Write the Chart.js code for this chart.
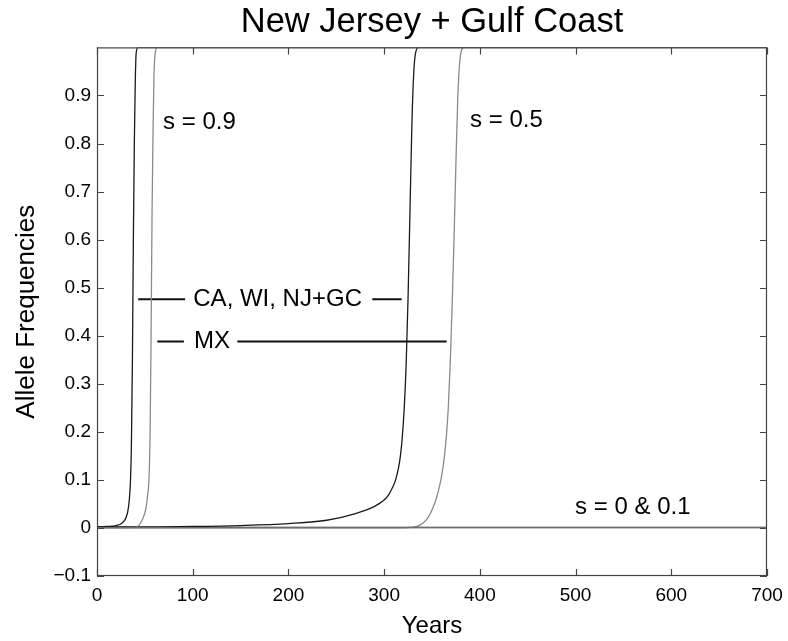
<!DOCTYPE html>
<html>
<head>
<meta charset="utf-8">
<script src="https://cdn.jsdelivr.net/npm/chart.js@4"></script>
<style>
  html, body { margin: 0; padding: 0; background: #ffffff; }
  #wrap { width: 788px; height: 641px; position: relative; }
</style>
</head>
<body>
<div id="wrap"><canvas id="c" width="788" height="641"></canvas></div>
<script>
// ---------------- data ----------------
const chartTitle = 'New Jersey + Gulf Coast';
const xAxisTitle = 'Years';
const yAxisTitle = 'Allele Frequencies';

const xTicks = [0, 100, 200, 300, 400, 500, 600, 700];
const xTickLabels = ['0', '100', '200', '300', '400', '500', '600', '700'];
const yTicks = [-0.1, 0, 0.1, 0.2, 0.3, 0.4, 0.5, 0.6, 0.7, 0.8, 0.9];
const yTickLabels = ['\u22120.1', '0', '0.1', '0.2', '0.3', '0.4', '0.5', '0.6', '0.7', '0.8', '0.9'];

// s = 0.9, CA / WI / NJ+GC (black)
const yearsS09Main = [0, 10, 20, 26, 30, 33, 35, 36, 37, 38, 39, 40, 41, 43, 700];
const freqS09Main  = [0.002, 0.003, 0.005, 0.010, 0.020, 0.045, 0.10, 0.18, 0.35, 0.60, 0.80, 0.93, 0.99, 1.0, 1.0];

// s = 0.9, MX (grey)
const yearsS09MX = [0, 40, 44, 48, 51, 53, 54.5, 55.5, 56.5, 57.5, 58.5, 59.5, 61, 63, 700];
const freqS09MX  = [0, 0.001, 0.006, 0.02, 0.04, 0.07, 0.11, 0.20, 0.40, 0.65, 0.82, 0.94, 0.99, 1.0, 1.0];

// s = 0.5, CA / WI / NJ+GC (black)
const yearsS05Main = [0, 50, 100, 150, 200, 240, 270, 290, 300, 305, 309, 312, 315, 317, 319, 321, 323, 325, 327, 329, 331, 333, 336, 700];
const freqS05Main  = [0.002, 0.002, 0.003, 0.005, 0.009, 0.016, 0.030, 0.045, 0.058, 0.070, 0.085, 0.10, 0.125, 0.15, 0.19, 0.25, 0.34, 0.48, 0.66, 0.84, 0.95, 0.99, 1.0, 1.0];

// s = 0.5, MX (grey)
const yearsS05MX = [0, 322, 328, 335, 341, 346, 351, 355, 358, 361, 363, 365, 367, 369, 371, 373, 375, 377, 379, 381, 384, 700];
const freqS05MX  = [0, 0, 0.001, 0.004, 0.011, 0.022, 0.042, 0.065, 0.088, 0.12, 0.15, 0.19, 0.25, 0.34, 0.46, 0.60, 0.76, 0.90, 0.97, 0.995, 1.0, 1.0];

// s = 0 & 0.1 (flat)
const yearsFlat = [0, 700];
const freqFlatMain = [0.001, 0.001];
const freqFlatMX = [0, 0];

// annotation pointer lines (data units)
const caLineLeftX  = [43, 92];
const caLineRightX = [287.6, 318.3];
const caLineY      = 0.476;
const mxLineLeftX  = [63, 90.8];
const mxLineRightX = [146.6, 365.3];
const mxLineY      = 0.388;

// annotation texts
const noteTexts = ['s = 0.9', 's = 0.5', 's = 0 & 0.1', 'CA, WI, NJ+GC', 'MX'];
const noteX     = [69, 389.8, 499.5, 100.6, 101.4];
const noteY     = [0.844, 0.848, 0.042, 0.476, 0.388];

// ---------------- build ----------------
const BLACK = '#1a1a1a';
const GREY = '#8a8a8a';
const FONT = "'Liberation Sans', Arial, Helvetica, sans-serif";

function pts(xs, ys) { return xs.map((x, i) => ({ x: x, y: ys[i] })); }
function hline(xs, y) { return xs.map(x => ({ x: x, y: y })); }

function curve(label, xs, ys, color) {
  return {
    label: label, data: pts(xs, ys), borderColor: color, borderWidth: 1.3,
    pointRadius: 0, fill: false, showLine: true,
    cubicInterpolationMode: 'monotone', tension: 0.4
  };
}
function pointer(label, xs, y) {
  return {
    label: label, data: hline(xs, y), borderColor: '#111111', borderWidth: 2,
    pointRadius: 0, fill: false, showLine: true, tension: 0
  };
}

const datasets = [
  curve('s=0 & 0.1 MX', yearsFlat, freqFlatMX, GREY),
  curve('s=0 & 0.1 CA/WI/NJ+GC', yearsFlat, freqFlatMain, BLACK),
  curve('s=0.9 MX', yearsS09MX, freqS09MX, GREY),
  curve('s=0.9 CA/WI/NJ+GC', yearsS09Main, freqS09Main, BLACK),
  curve('s=0.5 MX', yearsS05MX, freqS05MX, GREY),
  curve('s=0.5 CA/WI/NJ+GC', yearsS05Main, freqS05Main, BLACK),
  pointer('CA left', caLineLeftX, caLineY),
  pointer('CA right', caLineRightX, caLineY),
  pointer('MX left', mxLineLeftX, mxLineY),
  pointer('MX right', mxLineRightX, mxLineY)
];

const frameAndNotes = {
  id: 'frameAndNotes',
  afterDatasetsDraw(chart) {
    const { ctx, chartArea: a, scales: { x, y } } = chart;
    ctx.save();
    // annotation texts
    ctx.fillStyle = '#000000';
    ctx.font = "24px " + FONT;
    ctx.textAlign = 'left';
    ctx.textBaseline = 'middle';
    noteTexts.forEach((t, i) => {
      ctx.fillText(t, x.getPixelForValue(noteX[i]), y.getPixelForValue(noteY[i]));
    });
    // box
    ctx.strokeStyle = '#444444';
    ctx.lineWidth = 1.2;
    ctx.strokeRect(a.left + 0.5, a.top + 0.5, a.right - a.left - 1, a.bottom - a.top - 1);
    // inward ticks on all sides
    const L = 7;
    ctx.beginPath();
    xTicks.forEach(v => {
      const px = Math.round(x.getPixelForValue(v)) + 0.5;
      ctx.moveTo(px, a.bottom); ctx.lineTo(px, a.bottom - L);
      ctx.moveTo(px, a.top); ctx.lineTo(px, a.top + L);
    });
    yTicks.forEach(v => {
      const py = Math.round(y.getPixelForValue(v)) + 0.5;
      ctx.moveTo(a.left, py); ctx.lineTo(a.left + L, py);
      ctx.moveTo(a.right, py); ctx.lineTo(a.right - L, py);
    });
    ctx.stroke();
    ctx.restore();
  }
};

new Chart(document.getElementById('c'), {
  type: 'scatter',
  data: { datasets: datasets },
  plugins: [frameAndNotes],
  options: {
    responsive: false,
    animation: false,
    layout: { padding: { left: 0, right: 21, top: 0, bottom: 0 } },
    plugins: {
      legend: { display: false },
      tooltip: { enabled: false },
      title: {
        display: true, text: chartTitle, color: '#000000', fullSize: false,
        font: { family: FONT, size: 34.5, weight: 'normal' },
        padding: { top: 2, bottom: 4 }
      }
    },
    scales: {
      x: {
        type: 'linear', min: 0, max: 700,
        afterBuildTicks: s => { s.ticks = xTicks.map(v => ({ value: v })); },
        afterFit: s => { s.height = 65; s.paddingLeft = 0; s.paddingRight = 0; },
        ticks: {
          color: '#000000', padding: 8, maxRotation: 0, autoSkip: false,
          font: { family: FONT, size: 19 },
          callback: (v) => { const i = xTicks.indexOf(v); return i >= 0 ? xTickLabels[i] : ''; }
        },
        grid: { display: false, drawTicks: false },
        border: { display: false },
        title: {
          display: true, text: xAxisTitle, color: '#000000',
          font: { family: FONT, size: 24 }, padding: { top: 0, bottom: 0 }
        }
      },
      y: {
        type: 'linear', min: -0.1, max: 1.0,
        afterBuildTicks: s => { s.ticks = yTicks.map(v => ({ value: v })); },
        afterFit: s => { s.width = 97; s.paddingTop = 0; s.paddingBottom = 0; },
        ticks: {
          color: '#000000', padding: 6, autoSkip: false,
          font: { family: FONT, size: 19 },
          callback: (v) => {
            const i = yTicks.findIndex(t => Math.abs(t - v) < 1e-9);
            return i >= 0 ? yTickLabels[i] : '';
          }
        },
        grid: { display: false, drawTicks: false },
        border: { display: false },
        title: {
          display: true, text: yAxisTitle, color: '#000000',
          font: { family: FONT, size: 26 }, padding: { top: 11, bottom: 0 }
        }
      }
    }
  }
});
</script>
</body>
</html>
